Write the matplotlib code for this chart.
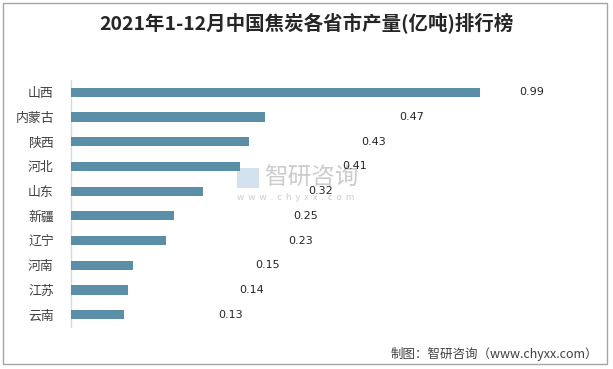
import matplotlib
matplotlib.use("Agg")
import matplotlib.pyplot as plt
from matplotlib.patches import Rectangle

plt.rcParams['font.family'] = ['Noto Sans CJK SC', 'DejaVu Sans']

provinces = ["山西", "内蒙古", "陕西", "河北", "山东", "新疆", "辽宁", "河南", "江苏", "云南"]
values = [0.99, 0.47, 0.43, 0.41, 0.32, 0.25, 0.23, 0.15, 0.14, 0.13]
value_labels = ["0.99", "0.47", "0.43", "0.41", "0.32", "0.25", "0.23", "0.15", "0.14", "0.13"]
# label anchor positions (data units) as they appear in the original chart
label_pos = [1.115, 0.824, 0.732, 0.686, 0.604, 0.568, 0.557, 0.476, 0.437, 0.386]

title = "2021年1-12月中国焦炭各省市产量(亿吨)排行榜"
source = "制图：智研咨询（www.chyxx.com）"

W, H = 613, 369
fig = plt.figure(figsize=(W / 100, H / 100), dpi=100)
fig.patch.set_facecolor("white")

# outer border
fig.add_artist(Rectangle((3 / W, 5 / H), 604 / W, 361 / H, transform=fig.transFigure,
                         fill=False, edgecolor="#a6a6a6", linewidth=1.0))

left, right, top, bottom = 70.5, 600, 80, 327
ax = fig.add_axes([left / W, 1 - bottom / H, (right - left) / W, (bottom - top) / H])
xmax = (right - left) / 414.0
ypos = list(range(len(provinces)))
ax.barh(ypos, values, height=0.37, color="#5b8fa7", edgecolor="none", zorder=3)
ax.set_xlim(0, xmax)
ax.set_ylim(len(provinces) - 0.5, -0.5)
ax.set_yticks(ypos)
ax.set_yticklabels(provinces, fontsize=9.3, color="#404040")
ax.tick_params(axis="y", length=0, pad=12)
ax.set_xticks([])
ax.patch.set_alpha(0)
for s in ["top", "right", "bottom"]:
    ax.spines[s].set_visible(False)
ax.spines["left"].set_color("#d9d9d9")
ax.spines["left"].set_linewidth(1.0)

for yi, lx, lab in zip(ypos, label_pos, value_labels):
    ax.text(lx, yi, lab, ha="center", va="center", fontsize=8, color="#262626",
            family=["DejaVu Sans"], zorder=5)

# watermark (drawn beneath the axes)
fig.text(264 / W, 1 - 178 / H, "智研咨询", fontsize=17, color="#cccccc",
         ha="left", va="center", zorder=-1)
fig.text(237 / W, 1 - 197 / H, "w  w  w  .  c  h  y  x  x  .  c  o  m", fontsize=6.5,
         color="#cccccc", ha="left", va="center", zorder=-1)
fig.add_artist(Rectangle((237 / W, 1 - 188 / H), 22 / W, 20 / H, transform=fig.transFigure,
                         facecolor="#d3e2ee", edgecolor="none", zorder=-1))

fig.text(306 / W, 1 - 24 / H, title, fontsize=14, fontweight="bold", color="#262626",
         ha="center", va="center")
fig.text(598 / W, 1 - 354 / H, source, fontsize=9, color="#404040", ha="right", va="center")

fig.savefig("out.png", dpi=100, facecolor="white")
